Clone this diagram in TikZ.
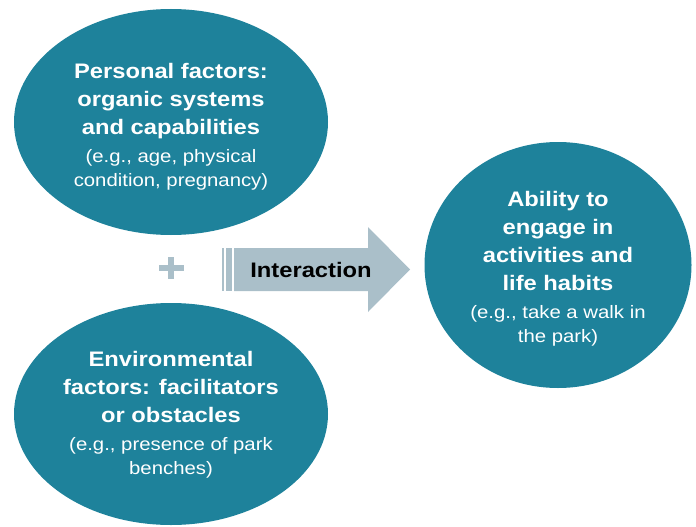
\documentclass[tikz,border=0pt]{standalone}
\usepackage{fontspec}
\setmainfont{Liberation Sans}[FakeStretch=1.13]
\definecolor{tealblob}{RGB}{30, 130, 155}
\definecolor{arrowgray}{RGB}{170, 191, 201}
\usetikzlibrary{shapes.geometric, positioning}

\newcommand{\headline}{\fontsize{21}{28}\selectfont\bfseries}
\newcommand{\exampleline}{\fontsize{18}{24}\selectfont\mdseries}

\begin{document}
\begin{tikzpicture}[x=1pt, y=-1pt,
    blob/.style={ellipse, fill=tealblob, draw=none, inner sep=0pt},
    blobtext/.style={text=white, align=center, inner sep=0pt, font=\fontsize{21}{28}\selectfont},
  ]
  \useasboundingbox (0,0) rectangle (696,527);

  % The three factors
  \node[blob, minimum width=314pt, minimum height=226pt] (personal) at (171, 122) {};
  \node[blob, minimum width=314pt, minimum height=222pt] (environment) at (171, 414) {};
  \node[blob, minimum width=267pt, minimum height=246pt] (ability) at (558, 265) {};

  % Texts
  \node[blobtext] (personaltext) at ([yshift=-5pt]personal) {
    \headline Personal factors:\\
    \headline organic systems\\
    \headline and capabilities\\
    \exampleline (e.g., age, physical\\[-4pt]
    \exampleline condition, pregnancy)
  };
  \node[blobtext] (environmenttext) at ([yshift=-1pt]environment) {
    \headline Environmental\\
    \headline factors: facilitators\\
    \headline or obstacles\\
    \exampleline (e.g., presence of park\\[-4pt]
    \exampleline benches)
  };
  \node[blobtext] (abilitytext) at ([yshift=-4pt]ability) {
    \headline Ability to\\
    \headline engage in\\
    \headline activities and\\
    \headline life habits\\
    \exampleline (e.g., take a walk in\\[-4pt]
    \exampleline the park)
  };

  % Plus sign
  \coordinate (plus) at (171, 268);
  \fill[arrowgray] ([xshift=-12.5pt, yshift=-3pt]plus) rectangle ([xshift=12.5pt, yshift=3pt]plus);
  \fill[arrowgray] ([xshift=-3pt, yshift=-11pt]plus) rectangle ([xshift=3pt, yshift=11pt]plus);

  % Interaction arrow
  \fill[arrowgray] (221.5, 248) rectangle (223.7, 291);
  \fill[arrowgray] (226, 248) rectangle (231.5, 291);
  \fill[arrowgray] (234, 248) -- (368, 248) -- (368, 227) -- (410, 269.5)
    -- (368, 312) -- (368, 291) -- (234, 291) -- cycle;
  \node[font=\fontsize{21}{26}\selectfont\bfseries, inner sep=0pt] (interaction) at (311, 270) {Interaction};
\end{tikzpicture}
\end{document}
